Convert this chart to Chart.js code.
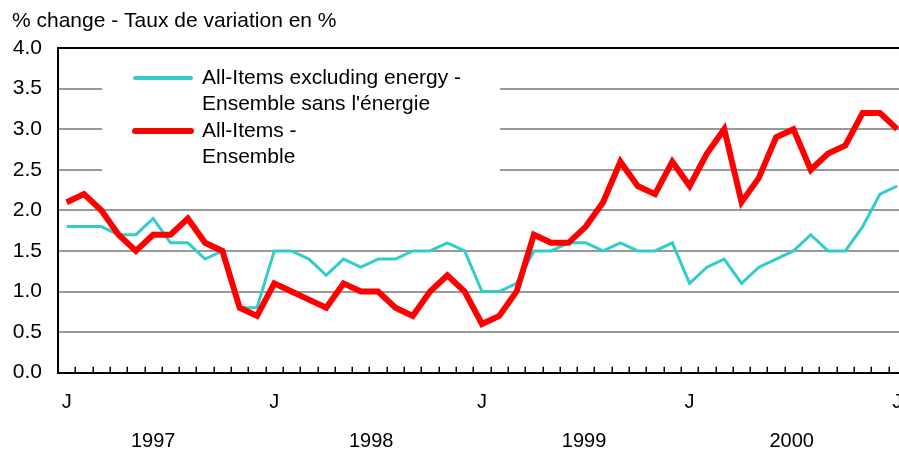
<!DOCTYPE html>
<html lang="en">
<head>
    <meta charset="UTF-8">
    <title>CPI - % change</title>
    <script src="https://cdn.jsdelivr.net/npm/chart.js"></script>
    <style>
        body {
            margin: 0;
            background-color: #fff;
        }
        .wrap {
            position: relative;
            width: 899px;
            height: 452px;
        }
    </style>
</head>
<body>

<div class="wrap">
    <canvas id="cpiChart"></canvas>
</div>

<script>
    // monthly, January 1997 to January 2001
    const unitTitle = '% change - Taux de variation en %';
    const monthTicks = ['J', 'J', 'J', 'J', 'J'];
    const yearTicks = ['1997', '1998', '1999', '2000'];
    const seriesNames = [
        ['All-Items excluding energy -', "Ensemble sans l'énergie"],
        ['All-Items -', 'Ensemble']
    ];

    const exEnergy = [
        1.8, 1.8, 1.8, 1.7, 1.7, 1.9, 1.6, 1.6, 1.4, 1.5, 0.8, 0.8,
        1.5, 1.5, 1.4, 1.2, 1.4, 1.3, 1.4, 1.4, 1.5, 1.5, 1.6, 1.5,
        1.0, 1.0, 1.1, 1.5, 1.5, 1.6, 1.6, 1.5, 1.6, 1.5, 1.5, 1.6,
        1.1, 1.3, 1.4, 1.1, 1.3, 1.4, 1.5, 1.7, 1.5, 1.5, 1.8, 2.2,
        2.3
    ];
    const allItems = [
        2.1, 2.2, 2.0, 1.7, 1.5, 1.7, 1.7, 1.9, 1.6, 1.5, 0.8, 0.7,
        1.1, 1.0, 0.9, 0.8, 1.1, 1.0, 1.0, 0.8, 0.7, 1.0, 1.2, 1.0,
        0.6, 0.7, 1.0, 1.7, 1.6, 1.6, 1.8, 2.1, 2.6, 2.3, 2.2, 2.6,
        2.3, 2.7, 3.0, 2.1, 2.4, 2.9, 3.0, 2.5, 2.7, 2.8, 3.2, 3.2,
        3.0
    ];

    // where the axis labels sit, in months from Jan 1997
    const monthTickPos = [0, 12, 24, 36, 48];
    const yearTickPos = [5.0, 17.6, 29.9, 41.9];

    const colors = ['#33cccc', '#ff0000'];
    const FONT = 'Arial, "Liberation Sans", sans-serif';

    const toPoints = arr => arr.map((v, i) => ({ x: i, y: v }));

    const decorPlugin = {
        id: 'decor',
        beforeDatasetsDraw(chart) {
            const ctx = chart.ctx;
            ctx.save();
            // legend box hides the grid behind it
            ctx.fillStyle = '#fff';
            ctx.fillRect(102, 62, 398, 116);

            const rows = [78, 131];
            const widths = [4, 6];
            ctx.font = '21px ' + FONT;
            ctx.textBaseline = 'middle';
            ctx.textAlign = 'left';
            seriesNames.forEach((lines, n) => {
                ctx.strokeStyle = colors[n];
                ctx.lineWidth = widths[n];
                ctx.lineCap = 'round';
                ctx.beginPath();
                ctx.moveTo(135, rows[n]);
                ctx.lineTo(191, rows[n]);
                ctx.stroke();
                ctx.fillStyle = '#000';
                lines.forEach((t, k) => ctx.fillText(t, 202, rows[n] + k * 26.5));
            });
            ctx.restore();
        },
        afterDraw(chart) {
            const ctx = chart.ctx;
            const area = chart.chartArea;
            const x = chart.scales.x;
            ctx.save();
            // title
            ctx.font = '21px ' + FONT;
            ctx.fillStyle = '#000';
            ctx.textBaseline = 'middle';
            ctx.fillText(unitTitle, 12, 21);
            // small month ticks pointing into the plot
            ctx.strokeStyle = '#000';
            ctx.lineWidth = 1.5;
            for (let k = 0; k < allItems.length; k++) {
                const px = Math.round(x.getPixelForValue(k + 0.5)) + 0.25;
                if (px > area.right) break;
                ctx.beginPath();
                ctx.moveTo(px, area.bottom);
                ctx.lineTo(px, area.bottom - 6);
                ctx.stroke();
            }
            ctx.restore();
        }
    };

    // the picture is cut at the right edge, so labels may run off it
    const noSidePadding = s => { s.paddingLeft = 0; s.paddingRight = 0; };

    new Chart(document.getElementById('cpiChart'), {
        type: 'line',
        data: {
            datasets: [
                {
                    label: seriesNames[0].join(' '),
                    data: toPoints(exEnergy),
                    borderColor: colors[0],
                    borderWidth: 3,
                    pointRadius: 0,
                    tension: 0,
                    order: 2
                },
                {
                    label: seriesNames[1].join(' '),
                    data: toPoints(allItems),
                    borderColor: colors[1],
                    borderWidth: 6,
                    pointRadius: 0,
                    tension: 0,
                    order: 1
                }
            ]
        },
        options: {
            responsive: true,
            maintainAspectRatio: false,
            animation: false,
            layout: {
                autoPadding: false,
                padding: { top: 48, left: 0, right: 0, bottom: 0 }
            },
            plugins: {
                legend: { display: false },
                tooltip: { enabled: false }
            },
            scales: {
                x: {
                    type: 'linear',
                    position: 'bottom',
                    weight: 0,
                    min: -0.5,
                    max: 48.1,
                    afterBuildTicks: s => { s.ticks = monthTickPos.map(v => ({ value: v })); },
                    afterFit: s => { s.height = 40; noSidePadding(s); },
                    ticks: {
                        autoSkip: false,
                        maxRotation: 0,
                        padding: 18,
                        color: '#000',
                        font: { family: FONT, size: 20 },
                        callback: (v, i) => monthTicks[i]
                    },
                    grid: { drawOnChartArea: false, drawTicks: false },
                    border: { display: true, color: '#000', width: 2 }
                },
                x2: {
                    type: 'linear',
                    position: 'bottom',
                    weight: 1,
                    min: -0.5,
                    max: 48.1,
                    afterBuildTicks: s => { s.ticks = yearTickPos.map(v => ({ value: v })); },
                    afterFit: s => { s.height = 39.3; noSidePadding(s); },
                    ticks: {
                        autoSkip: false,
                        maxRotation: 0,
                        padding: 17,
                        color: '#000',
                        font: { family: FONT, size: 20 },
                        callback: (v, i) => yearTicks[i]
                    },
                    grid: { display: false, drawTicks: false },
                    border: { display: false }
                },
                y: {
                    min: 0,
                    max: 4,
                    afterFit: s => { s.width = 58; },
                    ticks: {
                        stepSize: 0.5,
                        padding: 16,
                        color: '#000',
                        font: { family: FONT, size: 21 },
                        callback: v => v.toFixed(1)
                    },
                    grid: {
                        drawTicks: false,
                        lineWidth: 2,
                        color: c => (c.tick && c.tick.value === 4) ? '#000' : '#999'
                    },
                    border: { display: true, color: '#000', width: 2 }
                }
            }
        },
        plugins: [decorPlugin]
    });
</script>

</body>
</html>
